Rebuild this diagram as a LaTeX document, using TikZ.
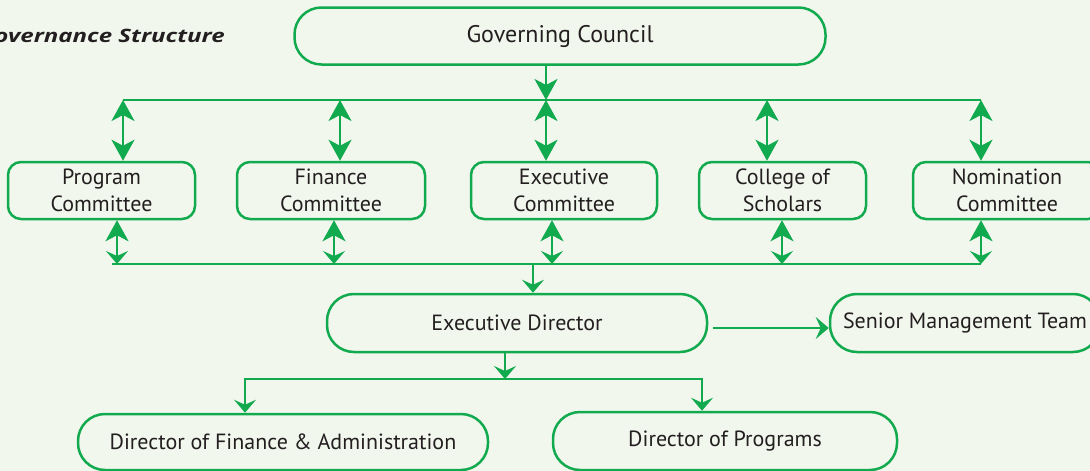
\documentclass[tikz,border=0pt]{standalone}
\usepackage{fontspec}
\setmainfont{PT Sans}
\newfontfamily\govtitlefont[FakeStretch=1.3]{Open Sans}
\usetikzlibrary{arrows.meta}
\definecolor{govgreen}{RGB}{18,170,78}
\definecolor{govpaper}{RGB}{242,247,237}
\definecolor{govink}{RGB}{35,31,32}
\tikzset{
  bigtip/.tip={Stealth[length=21pt,width=23pt,inset=6pt]},
  smalltip/.tip={Stealth[length=13pt,width=22pt,inset=5pt]},
  unit/.style={draw=govgreen, line width=2.5pt, text=govink, inner sep=0pt,
    minimum height=57pt, align=center, font=\fontsize{22}{27}\selectfont},
  wideunit/.style={unit, rounded corners=27pt},
  cmteunit/.style={unit, rounded corners=13pt},
  link/.style={color=govgreen, line width=2.6pt},
}

\begin{document}
\begin{tikzpicture}[x=1pt, y=-1pt]
        %paper
        \fill[govpaper] (0,0) rectangle (1090,471);
        \useasboundingbox (0,0) rectangle (1090,471);
        %title
        \node[anchor=base east, inner sep=0pt, text=govink, font=\govtitlefont\fontsize{18.5}{22}\selectfont\bfseries\itshape] (title) at (225,42) {Governance Structure};
        %governing council
        \node[wideunit, minimum width=531pt, font=\fontsize{24}{28}\selectfont] (gc) at (560,36)     {Governing Council};
        %committees
        \node[cmteunit, minimum width=187pt] (prog) at (101.5,190.5)     {Program\\Committee};
        \node[cmteunit, minimum width=188pt] (fin) at (331,190.5)     {Finance\\Committee};
        \node[cmteunit, minimum width=186pt] (exec) at (564,190.5)     {Executive\\Committee};
        \node[cmteunit, minimum width=167pt] (coll) at (782.5,190.5)     {College of\\Scholars};
        \node[cmteunit, minimum width=188pt] (nom) at (1007,190.5)     {Nomination\\Committee};
        %executive director and team
        \node[wideunit, minimum width=380pt, minimum height=58pt] (ed) at (517,323)     {Executive Director};
        \node[wideunit, minimum width=270pt, minimum height=58pt] (smt) at (965,323)     {Senior Management Team};
        %directors
        \node[wideunit, minimum width=410pt, minimum height=56pt] (dfa) at (283,442)     {Director of Finance \& Administration};
        \node[wideunit, minimum width=344pt, minimum height=58pt] (dp) at (725,441)     {Director of Programs};
        %points on the upper line
        \coordinate (up_1) at (123,100);
        \coordinate (up_2) at (340,100);
        \coordinate (up_3) at (546,100);
        \coordinate (up_4) at (767,100);
        \coordinate (up_5) at (981,100);
        %points on the lower line
        \coordinate (low_0) at (112,264);
        \coordinate (low_1) at (117,264);
        \coordinate (low_2) at (334,264);
        \coordinate (low_3) at (552,264);
        \coordinate (low_4) at (782,264);
        \coordinate (low_5) at (981,264);
        \coordinate (low_ed) at (533,264);
        %point on the directors line
        \coordinate (dir_ed) at (505,379);
        %lines between
        \path[link] (up_1) edge (up_5);
        \path[link] (low_0) edge (low_5);
        \path[link, -{bigtip}] (gc.south -| up_3) edge (up_3);
        %council and committees
        \path[link, {bigtip}-{bigtip}] (up_1) edge (up_1 |- prog.north);
        \path[link, {bigtip}-{bigtip}] (up_2) edge (up_2 |- fin.north);
        \path[link, {bigtip}-{bigtip}] (up_3) edge (up_3 |- exec.north);
        \path[link, {bigtip}-{bigtip}] (up_4) edge (up_4 |- coll.north);
        \path[link, {bigtip}-{bigtip}] (up_5) edge (up_5 |- nom.north);
        %committees and executive director
        \path[link, {bigtip}-{smalltip}] (low_1 |- prog.south) edge (low_1);
        \path[link, {bigtip}-{smalltip}] (low_2 |- fin.south) edge (low_2);
        \path[link, {bigtip}-{smalltip}] (low_3 |- exec.south) edge (low_3);
        \path[link, {bigtip}-{smalltip}] (low_4 |- coll.south) edge (low_4);
        \path[link, {bigtip}-{smalltip}] (low_5 |- nom.south) edge (low_5);
        \path[link, -{smalltip}] (low_ed) edge (low_ed |- ed.north);
        %executive director and below
        \path[link, -{smalltip}] ([xshift=5pt, yshift=-5pt]ed.east) edge ([yshift=-5pt]smt.west);
        \path[link] (dir_ed |- ed.south) edge[-{smalltip}] (dir_ed);
        \draw[link, -{smalltip}] (dir_ed) -| ([xshift=-38pt]dfa.north);
        \draw[link, -{smalltip}] (dir_ed) -| ([xshift=-23pt]dp.north);
    \end{tikzpicture}
\end{document}
